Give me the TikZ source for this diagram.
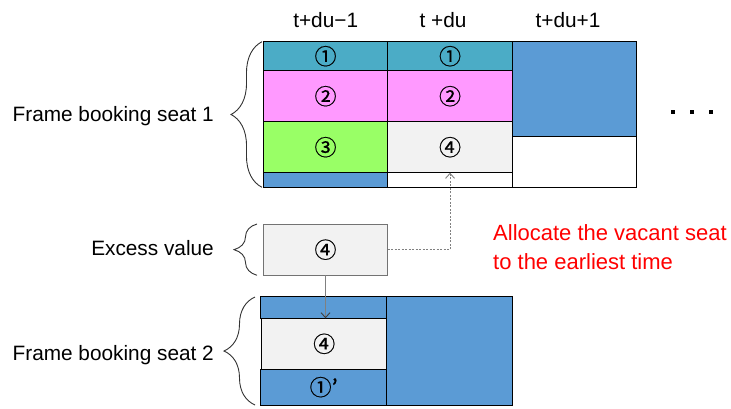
\documentclass[tikz,border=0pt]{standalone}
\usepackage{fontspec}
\setmainfont{Liberation Sans}
\newfontfamily\circfont[FakeBold=0.6]{Noto Sans CJK JP}
\usetikzlibrary{decorations.pathreplacing,arrows.meta}
\definecolor{cteal}{HTML}{4BACC6}
\definecolor{cpink}{HTML}{FF99FF}
\definecolor{cgreen}{HTML}{99FF66}
\definecolor{cgray}{HTML}{F2F2F2}
\definecolor{cblue}{HTML}{5B9BD5}
\begin{document}
\begin{tikzpicture}[x=1pt,y=-1pt,
  cell/.style={draw=black,line width=0.9pt,inner sep=0pt,outer sep=0pt,anchor=north west,
    font=\circfont\fontsize{22}{22}\selectfont},
  lbl/.style={font=\fontsize{20.8}{24}\selectfont,inner sep=0pt},
  note/.style={font=\fontsize{22}{26}\selectfont,text=red,inner sep=0pt,anchor=west},
  brc/.style={decorate,decoration={brace,amplitude=#1},draw=black!80,line width=0.9pt},
  sq/.style={fill=black,inner sep=0pt,minimum size=4pt}
  ]
\useasboundingbox (0,0) rectangle (731,408);
% column labels
\node[lbl] (h1) at (325.7,20) {t+du−1};
\node[lbl] (h2) at (443,20) {t +du};
\node[lbl] (h3) at (568,20) {t+du+1};
% seat 1 grid
\node[cell,fill=cteal,minimum width=124.5pt,minimum height=29pt] (a1) at (263.3,41.7) {①};
\node[cell,fill=cpink,minimum width=124.5pt,minimum height=51pt] (a2) at (263.3,70.7) {②};
\node[cell,fill=cgreen,minimum width=124.5pt,minimum height=51pt] (a3) at (263.3,121.7) {③};
\node[cell,fill=cblue,minimum width=124.5pt,minimum height=14.6pt] (a4) at (263.3,172.7) {};
\node[cell,fill=cteal,minimum width=124.5pt,minimum height=29pt] (b1) at (387.8,41.7) {①};
\node[cell,fill=cpink,minimum width=124.5pt,minimum height=51pt] (b2) at (387.8,70.7) {②};
\node[cell,fill=cgray,minimum width=124.5pt,minimum height=51pt] (b3) at (387.8,121.7) {④};
\node[cell,fill=white,minimum width=124.5pt,minimum height=14.6pt] (b4) at (387.8,172.7) {};
\node[cell,fill=cblue,minimum width=124.5pt,minimum height=94.3pt] (c1) at (512.3,41.7) {};
\node[cell,fill=white,minimum width=124.5pt,minimum height=51.3pt] (c2) at (512.3,136) {};
% dots
\node[sq] (d1) at (673.3,112.3) {};
\node[sq] (d2) at (692.3,112.3) {};
\node[sq] (d3) at (711,112.3) {};
% excess box
\node[cell,draw=black!55,fill=cgray,minimum width=124.4pt,minimum height=51.3pt] (ex) at (263.3,224) {④};
% seat 2 grid
\node[cell,fill=cblue,minimum width=126pt,minimum height=22.3pt] (s1) at (260.7,296) {};
\node[cell,fill=cgray,minimum width=125pt,minimum height=51pt] (s2) at (261.7,318.3) {④};
\node[cell,fill=cblue,minimum width=126pt,minimum height=35.7pt] (s3) at (260.7,369.3) {①’};
\node[cell,fill=cblue,minimum width=125.6pt,minimum height=109pt] (s4) at (386.7,296) {};
% labels
\node[lbl,anchor=east] (l1) at (214,116) {Frame booking seat 1};
\node[lbl,anchor=east] (l2) at (214,248) {Excess value};
\node[lbl,anchor=east] (l3) at (214,355) {Frame booking seat 2};
\node[note] (n1) at (493,233) {Allocate the vacant seat};
\node[note] (n2) at (493,262) {to the earliest time};
% braces
\draw[brc=31pt] (262,187.3) -- (262,41.7);
\draw[brc=23pt] (257,275.3) -- (257,224);
\draw[brc=31pt] (255,405) -- (255,297);
% connectors
\draw[black!50,line width=0.9pt,dash pattern=on 2pt off 1.5pt,-{Straight Barb[length=5pt,width=9pt]}]
  (ex.east) -| (b3.south);
\draw[black!50,line width=0.9pt,-{Straight Barb[length=5pt,width=9pt,black!75]}]
  (ex.south) -- (ex.south |- s2.north);
\end{tikzpicture}
\end{document}
